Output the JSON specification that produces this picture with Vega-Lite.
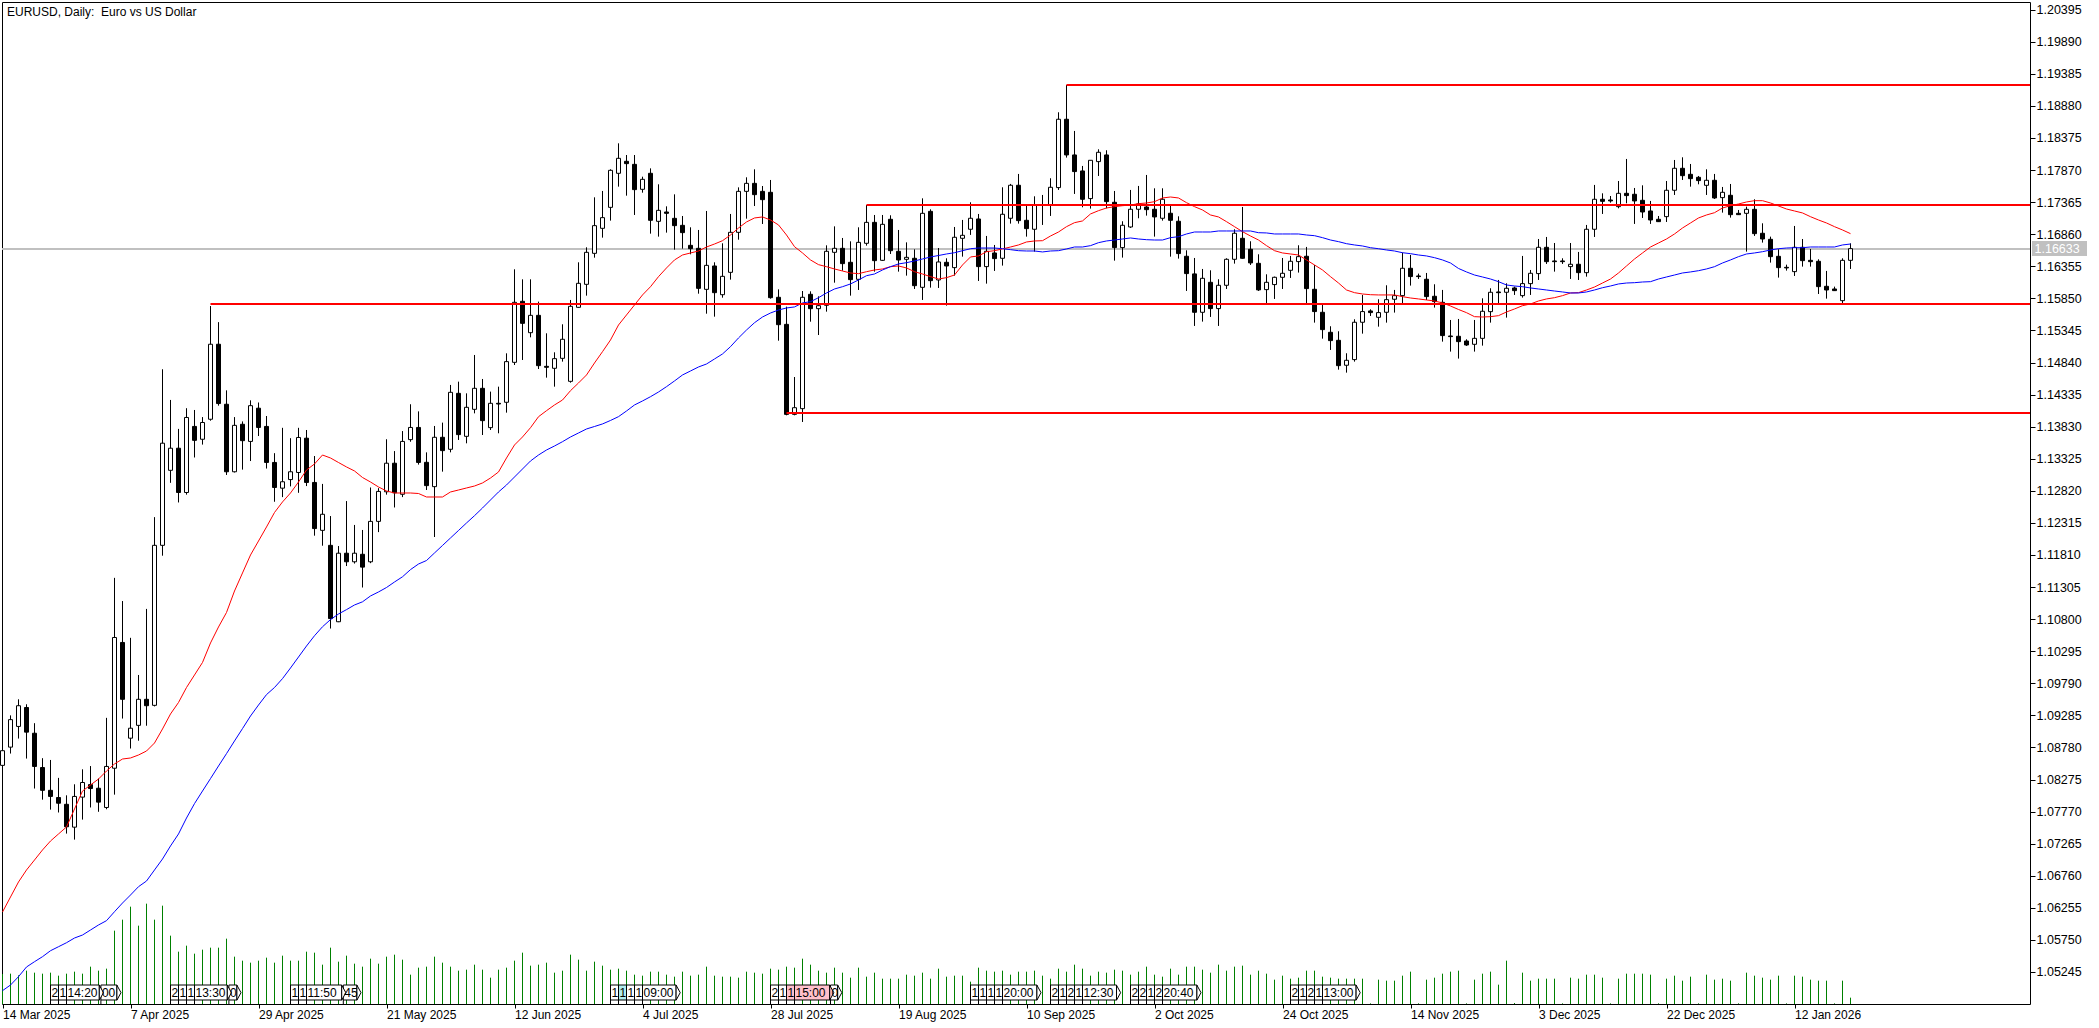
{
  "$schema": "https://vega.github.io/schema/vega-lite/v6.json",
  "width": 2028,
  "height": 1002,
  "autosize": {"type": "none"},
  "padding": {"left": 2, "top": 2, "right": 69, "bottom": 24},
  "background": "white",
  "config": {"view": {"stroke": "#000", "strokeWidth": 1}},
  "title": {
    "text": "EURUSD, Daily:\u00a0\u00a0Euro vs US Dollar",
    "anchor": "start",
    "frame": "group",
    "baseline": "top",
    "offset": -17,
    "dx": 5,
    "font": "Liberation Sans",
    "fontSize": 12,
    "fontWeight": "normal",
    "color": "#000"
  },
  "datasets": {
    "bars": [
{"bar":0,"open":1.08498,"high":1.08796,"low":1.08431,"close":1.08729,"volume":90,"ma_fast":1.06189,"ma_slow":1.04951},
{"bar":1,"open":1.08785,"high":1.09285,"low":1.08684,"close":1.09218,"volume":91,"ma_fast":1.06426,"ma_slow":1.0504},
{"bar":2,"open":1.09111,"high":1.09538,"low":1.0892,"close":1.09437,"volume":86,"ma_fast":1.06662,"ma_slow":1.05171},
{"bar":3,"open":1.09409,"high":1.0946,"low":1.08605,"close":1.09021,"volume":100,"ma_fast":1.06851,"ma_slow":1.05324},
{"bar":4,"open":1.09004,"high":1.09162,"low":1.08133,"close":1.08481,"volume":94,"ma_fast":1.07008,"ma_slow":1.05407},
{"bar":5,"open":1.08464,"high":1.08611,"low":1.07958,"close":1.08105,"volume":91,"ma_fast":1.07166,"ma_slow":1.05486},
{"bar":6,"open":1.08105,"high":1.08583,"low":1.07801,"close":1.08009,"volume":94,"ma_fast":1.07307,"ma_slow":1.0558},
{"bar":7,"open":1.07992,"high":1.08301,"low":1.07756,"close":1.07902,"volume":85,"ma_fast":1.07418,"ma_slow":1.05643},
{"bar":8,"open":1.07885,"high":1.08026,"low":1.07424,"close":1.07531,"volume":91,"ma_fast":1.07528,"ma_slow":1.05706},
{"bar":9,"open":1.07525,"high":1.082,"low":1.07329,"close":1.08009,"volume":97,"ma_fast":1.07811,"ma_slow":1.0578},
{"bar":10,"open":1.07998,"high":1.08436,"low":1.07644,"close":1.08228,"volume":91,"ma_fast":1.08094,"ma_slow":1.05827},
{"bar":11,"open":1.08195,"high":1.08487,"low":1.07835,"close":1.08133,"volume":112,"ma_fast":1.08189,"ma_slow":1.05906},
{"bar":12,"open":1.08138,"high":1.0829,"low":1.07767,"close":1.07919,"volume":100,"ma_fast":1.08283,"ma_slow":1.05985},
{"bar":13,"open":1.07835,"high":1.09246,"low":1.07807,"close":1.08481,"volume":106,"ma_fast":1.08409,"ma_slow":1.06053},
{"bar":14,"open":1.08453,"high":1.1145,"low":1.08037,"close":1.10511,"volume":220,"ma_fast":1.0852,"ma_slow":1.06194},
{"bar":15,"open":1.10433,"high":1.11085,"low":1.09235,"close":1.09538,"volume":253,"ma_fast":1.08598,"ma_slow":1.06331},
{"bar":16,"open":1.08926,"high":1.10506,"low":1.08763,"close":1.09083,"volume":292,"ma_fast":1.08614,"ma_slow":1.06457},
{"bar":17,"open":1.09128,"high":1.09921,"low":1.08886,"close":1.09538,"volume":235,"ma_fast":1.08661,"ma_slow":1.06588},
{"bar":18,"open":1.09538,"high":1.10961,"low":1.09122,"close":1.09437,"volume":301,"ma_fast":1.08724,"ma_slow":1.06677},
{"bar":19,"open":1.09443,"high":1.12406,"low":1.09426,"close":1.11962,"volume":253,"ma_fast":1.0885,"ma_slow":1.06851},
{"bar":20,"open":1.11962,"high":1.14734,"low":1.11799,"close":1.1357,"volume":295,"ma_fast":1.09071,"ma_slow":1.07024},
{"bar":21,"open":1.13143,"high":1.14251,"low":1.12946,"close":1.13491,"volume":205,"ma_fast":1.09307,"ma_slow":1.07229},
{"bar":22,"open":1.13491,"high":1.13795,"low":1.12637,"close":1.12794,"volume":157,"ma_fast":1.09488,"ma_slow":1.07418},
{"bar":23,"open":1.12794,"high":1.14121,"low":1.1276,"close":1.13975,"volume":175,"ma_fast":1.09724,"ma_slow":1.07669},
{"bar":24,"open":1.13834,"high":1.14093,"low":1.13345,"close":1.13615,"volume":151,"ma_fast":1.09921,"ma_slow":1.07896},
{"bar":25,"open":1.13632,"high":1.13981,"low":1.13548,"close":1.13896,"volume":163,"ma_fast":1.10118,"ma_slow":1.08094},
{"bar":26,"open":1.13947,"high":1.15729,"low":1.13924,"close":1.15128,"volume":169,"ma_fast":1.10425,"ma_slow":1.0829},
{"bar":27,"open":1.15128,"high":1.15476,"low":1.14161,"close":1.14194,"volume":169,"ma_fast":1.10677,"ma_slow":1.08488},
{"bar":28,"open":1.14183,"high":1.14402,"low":1.1307,"close":1.1312,"volume":196,"ma_fast":1.10905,"ma_slow":1.08683},
{"bar":29,"open":1.1312,"high":1.13981,"low":1.13109,"close":1.13851,"volume":142,"ma_fast":1.11243,"ma_slow":1.08882},
{"bar":30,"open":1.13868,"high":1.13913,"low":1.13154,"close":1.1361,"volume":130,"ma_fast":1.11527,"ma_slow":1.09077},
{"bar":31,"open":1.13598,"high":1.14245,"low":1.13289,"close":1.14161,"volume":124,"ma_fast":1.1181,"ma_slow":1.09275},
{"bar":32,"open":1.14121,"high":1.14211,"low":1.13683,"close":1.13818,"volume":130,"ma_fast":1.1203,"ma_slow":1.09448},
{"bar":33,"open":1.13834,"high":1.13998,"low":1.13171,"close":1.13267,"volume":139,"ma_fast":1.12251,"ma_slow":1.09612},
{"bar":34,"open":1.13267,"high":1.13413,"low":1.12648,"close":1.12873,"volume":124,"ma_fast":1.12479,"ma_slow":1.09724},
{"bar":35,"open":1.12862,"high":1.13812,"low":1.12721,"close":1.12963,"volume":145,"ma_fast":1.12645,"ma_slow":1.09864},
{"bar":36,"open":1.12997,"high":1.13649,"low":1.1289,"close":1.1312,"volume":130,"ma_fast":1.12786,"ma_slow":1.10031},
{"bar":37,"open":1.13109,"high":1.13812,"low":1.12789,"close":1.1366,"volume":130,"ma_fast":1.12959,"ma_slow":1.10204},
{"bar":38,"open":1.13649,"high":1.13778,"low":1.12895,"close":1.12952,"volume":157,"ma_fast":1.13148,"ma_slow":1.10377},
{"bar":39,"open":1.12952,"high":1.13368,"low":1.12114,"close":1.12226,"volume":154,"ma_fast":1.13243,"ma_slow":1.10539},
{"bar":40,"open":1.12198,"high":1.12929,"low":1.11956,"close":1.12451,"volume":118,"ma_fast":1.13384,"ma_slow":1.1068},
{"bar":41,"open":1.11962,"high":1.12423,"low":1.10652,"close":1.10809,"volume":169,"ma_fast":1.13337,"ma_slow":1.10793},
{"bar":42,"open":1.10759,"high":1.11951,"low":1.10753,"close":1.11838,"volume":127,"ma_fast":1.13266,"ma_slow":1.10881},
{"bar":43,"open":1.11838,"high":1.12659,"low":1.11636,"close":1.11703,"volume":145,"ma_fast":1.13196,"ma_slow":1.1095},
{"bar":44,"open":1.11703,"high":1.12283,"low":1.11675,"close":1.11838,"volume":121,"ma_fast":1.13133,"ma_slow":1.11023},
{"bar":45,"open":1.11821,"high":1.12204,"low":1.11298,"close":1.11619,"volume":112,"ma_fast":1.1303,"ma_slow":1.11073},
{"bar":46,"open":1.11703,"high":1.12873,"low":1.11681,"close":1.12339,"volume":136,"ma_fast":1.12959,"ma_slow":1.11165},
{"bar":47,"open":1.12339,"high":1.12862,"low":1.1217,"close":1.12811,"volume":121,"ma_fast":1.12881,"ma_slow":1.11228},
{"bar":48,"open":1.12805,"high":1.13632,"low":1.1276,"close":1.13255,"volume":142,"ma_fast":1.12818,"ma_slow":1.11298},
{"bar":49,"open":1.13255,"high":1.13446,"low":1.12558,"close":1.12789,"volume":148,"ma_fast":1.12786,"ma_slow":1.11385},
{"bar":50,"open":1.12766,"high":1.13761,"low":1.12721,"close":1.13598,"volume":133,"ma_fast":1.12786,"ma_slow":1.11467},
{"bar":51,"open":1.13626,"high":1.14183,"low":1.13593,"close":1.13818,"volume":88,"ma_fast":1.12786,"ma_slow":1.1158},
{"bar":52,"open":1.13818,"high":1.14071,"low":1.13233,"close":1.13267,"volume":109,"ma_fast":1.12778,"ma_slow":1.11668},
{"bar":53,"open":1.13269,"high":1.13426,"low":1.12833,"close":1.12902,"volume":112,"ma_fast":1.12723,"ma_slow":1.11723},
{"bar":54,"open":1.12886,"high":1.13841,"low":1.12093,"close":1.13663,"volume":142,"ma_fast":1.12723,"ma_slow":1.11842},
{"bar":55,"open":1.13663,"high":1.13894,"low":1.13122,"close":1.13453,"volume":124,"ma_fast":1.12723,"ma_slow":1.1196},
{"bar":56,"open":1.13474,"high":1.14487,"low":1.13426,"close":1.14371,"volume":112,"ma_fast":1.12802,"ma_slow":1.12078},
{"bar":57,"open":1.14355,"high":1.14539,"low":1.13621,"close":1.13705,"volume":100,"ma_fast":1.12833,"ma_slow":1.12196},
{"bar":58,"open":1.13678,"high":1.14355,"low":1.13568,"close":1.14135,"volume":103,"ma_fast":1.12865,"ma_slow":1.12314},
{"bar":59,"open":1.14103,"high":1.14959,"low":1.1404,"close":1.14434,"volume":118,"ma_fast":1.12896,"ma_slow":1.12429},
{"bar":60,"open":1.14434,"high":1.14581,"low":1.13699,"close":1.13925,"volume":103,"ma_fast":1.12944,"ma_slow":1.1255},
{"bar":61,"open":1.13815,"high":1.14382,"low":1.13778,"close":1.14198,"volume":79,"ma_fast":1.13022,"ma_slow":1.12676},
{"bar":62,"open":1.14198,"high":1.1446,"low":1.13726,"close":1.14187,"volume":103,"ma_fast":1.13117,"ma_slow":1.12802},
{"bar":63,"open":1.14214,"high":1.14985,"low":1.14051,"close":1.14854,"volume":109,"ma_fast":1.13337,"ma_slow":1.12912},
{"bar":64,"open":1.14843,"high":1.16308,"low":1.14801,"close":1.15788,"volume":130,"ma_fast":1.13542,"ma_slow":1.13038},
{"bar":65,"open":1.15804,"high":1.1615,"low":1.1488,"close":1.15457,"volume":154,"ma_fast":1.13668,"ma_slow":1.13164},
{"bar":66,"open":1.1531,"high":1.1615,"low":1.15237,"close":1.15583,"volume":115,"ma_fast":1.13814,"ma_slow":1.1329},
{"bar":67,"open":1.15583,"high":1.15799,"low":1.14738,"close":1.14791,"volume":118,"ma_fast":1.13987,"ma_slow":1.13384},
{"bar":68,"open":1.1478,"high":1.153,"low":1.14602,"close":1.14765,"volume":124,"ma_fast":1.14082,"ma_slow":1.13463},
{"bar":69,"open":1.14749,"high":1.15001,"low":1.1446,"close":1.14901,"volume":94,"ma_fast":1.14172,"ma_slow":1.13526},
{"bar":70,"open":1.14906,"high":1.15442,"low":1.14854,"close":1.15206,"volume":100,"ma_fast":1.1425,"ma_slow":1.13594},
{"bar":71,"open":1.14544,"high":1.15825,"low":1.14523,"close":1.15725,"volume":148,"ma_fast":1.14397,"ma_slow":1.13668},
{"bar":72,"open":1.15709,"high":1.16418,"low":1.15704,"close":1.16087,"volume":133,"ma_fast":1.14518,"ma_slow":1.13731},
{"bar":73,"open":1.16071,"high":1.16654,"low":1.15893,"close":1.16575,"volume":100,"ma_fast":1.14644,"ma_slow":1.13794},
{"bar":74,"open":1.16559,"high":1.17441,"low":1.16491,"close":1.16995,"volume":127,"ma_fast":1.14833,"ma_slow":1.13833},
{"bar":75,"open":1.16953,"high":1.17541,"low":1.16806,"close":1.17121,"volume":115,"ma_fast":1.15011,"ma_slow":1.13873},
{"bar":76,"open":1.17283,"high":1.17882,"low":1.17074,"close":1.17866,"volume":103,"ma_fast":1.15195,"ma_slow":1.13928},
{"bar":77,"open":1.17819,"high":1.18291,"low":1.17609,"close":1.18055,"volume":106,"ma_fast":1.15431,"ma_slow":1.13988},
{"bar":78,"open":1.18008,"high":1.18107,"low":1.17467,"close":1.17971,"volume":100,"ma_fast":1.15589,"ma_slow":1.14077},
{"bar":79,"open":1.1796,"high":1.18107,"low":1.17163,"close":1.17562,"volume":88,"ma_fast":1.15746,"ma_slow":1.14172},
{"bar":80,"open":1.17567,"high":1.17766,"low":1.17514,"close":1.17724,"volume":85,"ma_fast":1.15904,"ma_slow":1.14235},
{"bar":81,"open":1.17819,"high":1.17897,"low":1.16869,"close":1.17079,"volume":97,"ma_fast":1.16034,"ma_slow":1.14302},
{"bar":82,"open":1.17063,"high":1.17646,"low":1.16822,"close":1.17236,"volume":97,"ma_fast":1.16192,"ma_slow":1.14376},
{"bar":83,"open":1.1721,"high":1.17299,"low":1.16885,"close":1.17189,"volume":88,"ma_fast":1.16329,"ma_slow":1.1446},
{"bar":84,"open":1.1711,"high":1.17488,"low":1.16617,"close":1.16995,"volume":82,"ma_fast":1.16455,"ma_slow":1.1455},
{"bar":85,"open":1.17,"high":1.17147,"low":1.16633,"close":1.16885,"volume":97,"ma_fast":1.16533,"ma_slow":1.14644},
{"bar":86,"open":1.16685,"high":1.16969,"low":1.16544,"close":1.16633,"volume":85,"ma_fast":1.16565,"ma_slow":1.14707},
{"bar":87,"open":1.16638,"high":1.16927,"low":1.15924,"close":1.16008,"volume":88,"ma_fast":1.16596,"ma_slow":1.1477},
{"bar":88,"open":1.15992,"high":1.17226,"low":1.15609,"close":1.1637,"volume":112,"ma_fast":1.16659,"ma_slow":1.14817},
{"bar":89,"open":1.1636,"high":1.16418,"low":1.15562,"close":1.1594,"volume":85,"ma_fast":1.16706,"ma_slow":1.14896},
{"bar":90,"open":1.15908,"high":1.16717,"low":1.15861,"close":1.16197,"volume":82,"ma_fast":1.16758,"ma_slow":1.14975},
{"bar":91,"open":1.1626,"high":1.17179,"low":1.16145,"close":1.1689,"volume":82,"ma_fast":1.16848,"ma_slow":1.1509},
{"bar":92,"open":1.1689,"high":1.17598,"low":1.16774,"close":1.17535,"volume":79,"ma_fast":1.16958,"ma_slow":1.15227},
{"bar":93,"open":1.17535,"high":1.17756,"low":1.17105,"close":1.17661,"volume":97,"ma_fast":1.17053,"ma_slow":1.15352},
{"bar":94,"open":1.17661,"high":1.17882,"low":1.17304,"close":1.17483,"volume":94,"ma_fast":1.17116,"ma_slow":1.15467},
{"bar":95,"open":1.17535,"high":1.17619,"low":1.17021,"close":1.17404,"volume":91,"ma_fast":1.17132,"ma_slow":1.15557},
{"bar":96,"open":1.1752,"high":1.17714,"low":1.15845,"close":1.15861,"volume":106,"ma_fast":1.17084,"ma_slow":1.1562},
{"bar":97,"open":1.15867,"high":1.15992,"low":1.15184,"close":1.15436,"volume":103,"ma_fast":1.17006,"ma_slow":1.15667},
{"bar":98,"open":1.15441,"high":1.1572,"low":1.14009,"close":1.14024,"volume":112,"ma_fast":1.16848,"ma_slow":1.15699},
{"bar":99,"open":1.14024,"high":1.14612,"low":1.14009,"close":1.14129,"volume":109,"ma_fast":1.16664,"ma_slow":1.15715},
{"bar":100,"open":1.14114,"high":1.15966,"low":1.13904,"close":1.15867,"volume":136,"ma_fast":1.16565,"ma_slow":1.15778},
{"bar":101,"open":1.15914,"high":1.15961,"low":1.15483,"close":1.15688,"volume":118,"ma_fast":1.16455,"ma_slow":1.15798},
{"bar":102,"open":1.15688,"high":1.15882,"low":1.15273,"close":1.15735,"volume":100,"ma_fast":1.16381,"ma_slow":1.15861},
{"bar":103,"open":1.15741,"high":1.16685,"low":1.15641,"close":1.16591,"volume":94,"ma_fast":1.16349,"ma_slow":1.15935},
{"bar":104,"open":1.16575,"high":1.16984,"low":1.16097,"close":1.16638,"volume":109,"ma_fast":1.16313,"ma_slow":1.15998},
{"bar":105,"open":1.16638,"high":1.16801,"low":1.16286,"close":1.16397,"volume":94,"ma_fast":1.16281,"ma_slow":1.16034},
{"bar":106,"open":1.16418,"high":1.16748,"low":1.15893,"close":1.16145,"volume":79,"ma_fast":1.1625,"ma_slow":1.16077},
{"bar":107,"open":1.1615,"high":1.16969,"low":1.15982,"close":1.16732,"volume":109,"ma_fast":1.16239,"ma_slow":1.1614},
{"bar":108,"open":1.16717,"high":1.1732,"low":1.1668,"close":1.17047,"volume":82,"ma_fast":1.1627,"ma_slow":1.16207},
{"bar":109,"open":1.17047,"high":1.17163,"low":1.16271,"close":1.16444,"volume":94,"ma_fast":1.16297,"ma_slow":1.16234},
{"bar":110,"open":1.16449,"high":1.17163,"low":1.16439,"close":1.17016,"volume":76,"ma_fast":1.16313,"ma_slow":1.16297},
{"bar":111,"open":1.17095,"high":1.17158,"low":1.16549,"close":1.16601,"volume":76,"ma_fast":1.16349,"ma_slow":1.16349},
{"bar":112,"open":1.16591,"high":1.16927,"low":1.16271,"close":1.16454,"volume":76,"ma_fast":1.1636,"ma_slow":1.16392},
{"bar":113,"open":1.16465,"high":1.16732,"low":1.16208,"close":1.16496,"volume":88,"ma_fast":1.16329,"ma_slow":1.16412},
{"bar":114,"open":1.16481,"high":1.16622,"low":1.15998,"close":1.1605,"volume":85,"ma_fast":1.1627,"ma_slow":1.16439},
{"bar":115,"open":1.16024,"high":1.17425,"low":1.15825,"close":1.17189,"volume":94,"ma_fast":1.16234,"ma_slow":1.1647},
{"bar":116,"open":1.1722,"high":1.17252,"low":1.16019,"close":1.16129,"volume":76,"ma_fast":1.16192,"ma_slow":1.16502},
{"bar":117,"open":1.1614,"high":1.16643,"low":1.16014,"close":1.16423,"volume":106,"ma_fast":1.16155,"ma_slow":1.16525},
{"bar":118,"open":1.16418,"high":1.16481,"low":1.15736,"close":1.1636,"volume":82,"ma_fast":1.16176,"ma_slow":1.16549},
{"bar":119,"open":1.16334,"high":1.16974,"low":1.16208,"close":1.16812,"volume":85,"ma_fast":1.16218,"ma_slow":1.16569},
{"bar":120,"open":1.16796,"high":1.17085,"low":1.16507,"close":1.16843,"volume":85,"ma_fast":1.16376,"ma_slow":1.16601},
{"bar":121,"open":1.16938,"high":1.17363,"low":1.16849,"close":1.17111,"volume":67,"ma_fast":1.16502,"ma_slow":1.16632},
{"bar":122,"open":1.171,"high":1.17179,"low":1.16124,"close":1.1635,"volume":109,"ma_fast":1.16518,"ma_slow":1.16643},
{"bar":123,"open":1.1635,"high":1.16833,"low":1.16082,"close":1.16591,"volume":100,"ma_fast":1.16585,"ma_slow":1.16643},
{"bar":124,"open":1.16565,"high":1.16691,"low":1.16282,"close":1.16476,"volume":97,"ma_fast":1.16601,"ma_slow":1.16643},
{"bar":125,"open":1.16481,"high":1.17599,"low":1.16366,"close":1.17174,"volume":100,"ma_fast":1.16628,"ma_slow":1.16632},
{"bar":126,"open":1.17111,"high":1.17652,"low":1.17027,"close":1.17631,"volume":88,"ma_fast":1.16659,"ma_slow":1.16617},
{"bar":127,"open":1.17631,"high":1.17809,"low":1.17027,"close":1.17074,"volume":97,"ma_fast":1.16691,"ma_slow":1.16601},
{"bar":128,"open":1.17079,"high":1.17321,"low":1.16822,"close":1.16948,"volume":97,"ma_fast":1.16738,"ma_slow":1.16596},
{"bar":129,"open":1.16938,"high":1.17457,"low":1.16586,"close":1.17321,"volume":100,"ma_fast":1.16754,"ma_slow":1.16596},
{"bar":130,"open":1.17326,"high":1.17478,"low":1.17006,"close":1.17316,"volume":85,"ma_fast":1.16758,"ma_slow":1.16581},
{"bar":131,"open":1.17321,"high":1.17741,"low":1.17148,"close":1.17599,"volume":76,"ma_fast":1.16832,"ma_slow":1.16596},
{"bar":132,"open":1.17594,"high":1.1878,"low":1.17557,"close":1.1867,"volume":106,"ma_fast":1.16895,"ma_slow":1.16601},
{"bar":133,"open":1.1867,"high":1.1921,"low":1.18066,"close":1.18108,"volume":97,"ma_fast":1.16979,"ma_slow":1.16628},
{"bar":134,"open":1.18108,"high":1.18486,"low":1.17494,"close":1.17846,"volume":118,"ma_fast":1.17042,"ma_slow":1.16659},
{"bar":135,"open":1.17856,"high":1.17935,"low":1.17284,"close":1.1741,"volume":106,"ma_fast":1.17069,"ma_slow":1.16659},
{"bar":136,"open":1.17421,"high":1.18024,"low":1.17263,"close":1.18024,"volume":85,"ma_fast":1.17179,"ma_slow":1.1668},
{"bar":137,"open":1.18003,"high":1.18197,"low":1.17777,"close":1.1815,"volume":97,"ma_fast":1.17231,"ma_slow":1.16727},
{"bar":138,"open":1.18108,"high":1.18182,"low":1.17268,"close":1.17373,"volume":94,"ma_fast":1.17273,"ma_slow":1.16754},
{"bar":139,"open":1.17363,"high":1.17541,"low":1.16444,"close":1.16649,"volume":103,"ma_fast":1.17294,"ma_slow":1.16769},
{"bar":140,"open":1.16649,"high":1.17064,"low":1.16492,"close":1.17001,"volume":100,"ma_fast":1.17309,"ma_slow":1.16785},
{"bar":141,"open":1.16974,"high":1.17557,"low":1.16959,"close":1.17253,"volume":88,"ma_fast":1.1732,"ma_slow":1.16801},
{"bar":142,"open":1.17253,"high":1.1762,"low":1.17111,"close":1.17337,"volume":97,"ma_fast":1.17341,"ma_slow":1.16785},
{"bar":143,"open":1.17289,"high":1.17793,"low":1.17153,"close":1.17247,"volume":112,"ma_fast":1.17352,"ma_slow":1.16774},
{"bar":144,"open":1.17253,"high":1.17583,"low":1.16822,"close":1.17132,"volume":88,"ma_fast":1.17372,"ma_slow":1.16769},
{"bar":145,"open":1.17111,"high":1.17583,"low":1.17074,"close":1.1741,"volume":82,"ma_fast":1.17431,"ma_slow":1.16769},
{"bar":146,"open":1.1719,"high":1.17321,"low":1.16507,"close":1.17079,"volume":106,"ma_fast":1.17446,"ma_slow":1.16806},
{"bar":147,"open":1.17064,"high":1.17142,"low":1.16476,"close":1.16555,"volume":88,"ma_fast":1.17431,"ma_slow":1.16821},
{"bar":148,"open":1.16513,"high":1.16607,"low":1.15967,"close":1.1624,"volume":112,"ma_fast":1.17357,"ma_slow":1.16864},
{"bar":149,"open":1.16235,"high":1.16486,"low":1.15416,"close":1.15631,"volume":112,"ma_fast":1.17294,"ma_slow":1.16895},
{"bar":150,"open":1.15631,"high":1.16313,"low":1.15484,"close":1.16166,"volume":103,"ma_fast":1.17242,"ma_slow":1.16895},
{"bar":151,"open":1.16103,"high":1.16292,"low":1.15558,"close":1.15689,"volume":94,"ma_fast":1.17163,"ma_slow":1.16895},
{"bar":152,"open":1.15689,"high":1.16151,"low":1.15416,"close":1.16056,"volume":118,"ma_fast":1.17132,"ma_slow":1.16911},
{"bar":153,"open":1.16056,"high":1.16481,"low":1.15998,"close":1.16465,"volume":100,"ma_fast":1.17058,"ma_slow":1.16911},
{"bar":154,"open":1.16465,"high":1.16938,"low":1.16397,"close":1.16875,"volume":112,"ma_fast":1.16979,"ma_slow":1.16911},
{"bar":155,"open":1.16796,"high":1.17289,"low":1.16476,"close":1.16481,"volume":115,"ma_fast":1.169,"ma_slow":1.16911},
{"bar":156,"open":1.16623,"high":1.16749,"low":1.16376,"close":1.16408,"volume":88,"ma_fast":1.16832,"ma_slow":1.16911},
{"bar":157,"open":1.16402,"high":1.16544,"low":1.15967,"close":1.15983,"volume":100,"ma_fast":1.16769,"ma_slow":1.16884},
{"bar":158,"open":1.15988,"high":1.16229,"low":1.15773,"close":1.16103,"volume":91,"ma_fast":1.1668,"ma_slow":1.1688},
{"bar":159,"open":1.16067,"high":1.16193,"low":1.15841,"close":1.16182,"volume":73,"ma_fast":1.16601,"ma_slow":1.16864},
{"bar":160,"open":1.16182,"high":1.16486,"low":1.15998,"close":1.16245,"volume":85,"ma_fast":1.16565,"ma_slow":1.16864},
{"bar":161,"open":1.16292,"high":1.16518,"low":1.16172,"close":1.16434,"volume":76,"ma_fast":1.16549,"ma_slow":1.16864},
{"bar":162,"open":1.16429,"high":1.16686,"low":1.16256,"close":1.16507,"volume":79,"ma_fast":1.16533,"ma_slow":1.16864},
{"bar":163,"open":1.16513,"high":1.1666,"low":1.15762,"close":1.16004,"volume":100,"ma_fast":1.16455,"ma_slow":1.16848},
{"bar":164,"open":1.15993,"high":1.16376,"low":1.15468,"close":1.15642,"volume":100,"ma_fast":1.16376,"ma_slow":1.16837},
{"bar":165,"open":1.15631,"high":1.15762,"low":1.15216,"close":1.15358,"volume":82,"ma_fast":1.16297,"ma_slow":1.16806},
{"bar":166,"open":1.15316,"high":1.15411,"low":1.15038,"close":1.15185,"volume":79,"ma_fast":1.16192,"ma_slow":1.16769},
{"bar":167,"open":1.1519,"high":1.15332,"low":1.14728,"close":1.14791,"volume":76,"ma_fast":1.16092,"ma_slow":1.16743},
{"bar":168,"open":1.14797,"high":1.14986,"low":1.14681,"close":1.14875,"volume":76,"ma_fast":1.15982,"ma_slow":1.16711},
{"bar":169,"open":1.14886,"high":1.15521,"low":1.14854,"close":1.15474,"volume":76,"ma_fast":1.1594,"ma_slow":1.16691},
{"bar":170,"open":1.15474,"high":1.15904,"low":1.15295,"close":1.15642,"volume":76,"ma_fast":1.15919,"ma_slow":1.16675},
{"bar":171,"open":1.15652,"high":1.15678,"low":1.15573,"close":1.15626,"volume":2,"ma_fast":1.15908,"ma_slow":1.16648},
{"bar":172,"open":1.15552,"high":1.15836,"low":1.15405,"close":1.15626,"volume":73,"ma_fast":1.15904,"ma_slow":1.16632},
{"bar":173,"open":1.15631,"high":1.16056,"low":1.15468,"close":1.1583,"volume":70,"ma_fast":1.15904,"ma_slow":1.16612},
{"bar":174,"open":1.15836,"high":1.15983,"low":1.15626,"close":1.15893,"volume":70,"ma_fast":1.15904,"ma_slow":1.16596},
{"bar":175,"open":1.15893,"high":1.1657,"low":1.15773,"close":1.16324,"volume":85,"ma_fast":1.15877,"ma_slow":1.16569},
{"bar":176,"open":1.16324,"high":1.16534,"low":1.16051,"close":1.16193,"volume":97,"ma_fast":1.15856,"ma_slow":1.16554},
{"bar":177,"open":1.16203,"high":1.1624,"low":1.16156,"close":1.16193,"volume":2,"ma_fast":1.15841,"ma_slow":1.16533},
{"bar":178,"open":1.16151,"high":1.1625,"low":1.15825,"close":1.15878,"volume":73,"ma_fast":1.15825,"ma_slow":1.16518},
{"bar":179,"open":1.15883,"high":1.16072,"low":1.15705,"close":1.15799,"volume":79,"ma_fast":1.15809,"ma_slow":1.16491},
{"bar":180,"open":1.15788,"high":1.15983,"low":1.15169,"close":1.15264,"volume":91,"ma_fast":1.15778,"ma_slow":1.16455},
{"bar":181,"open":1.15258,"high":1.1551,"low":1.15012,"close":1.15248,"volume":97,"ma_fast":1.1573,"ma_slow":1.16407},
{"bar":182,"open":1.15253,"high":1.15526,"low":1.14902,"close":1.15169,"volume":100,"ma_fast":1.15675,"ma_slow":1.16321},
{"bar":183,"open":1.15179,"high":1.15206,"low":1.15101,"close":1.15116,"volume":2,"ma_fast":1.15625,"ma_slow":1.16266},
{"bar":184,"open":1.15127,"high":1.1551,"low":1.15012,"close":1.15221,"volume":73,"ma_fast":1.15562,"ma_slow":1.16218},
{"bar":185,"open":1.15221,"high":1.15851,"low":1.15106,"close":1.15647,"volume":91,"ma_fast":1.15557,"ma_slow":1.16187},
{"bar":186,"open":1.15641,"high":1.16009,"low":1.15468,"close":1.15946,"volume":97,"ma_fast":1.15562,"ma_slow":1.16155},
{"bar":187,"open":1.15951,"high":1.1614,"low":1.15772,"close":1.1594,"volume":58,"ma_fast":1.15578,"ma_slow":1.16113},
{"bar":188,"open":1.15946,"high":1.16087,"low":1.15547,"close":1.16009,"volume":130,"ma_fast":1.15636,"ma_slow":1.16061},
{"bar":189,"open":1.16014,"high":1.16035,"low":1.15904,"close":1.15972,"volume":3,"ma_fast":1.15683,"ma_slow":1.16045},
{"bar":190,"open":1.15893,"high":1.16518,"low":1.15862,"close":1.16082,"volume":94,"ma_fast":1.15735,"ma_slow":1.16034},
{"bar":191,"open":1.16082,"high":1.16297,"low":1.15904,"close":1.16245,"volume":70,"ma_fast":1.15762,"ma_slow":1.16014},
{"bar":192,"open":1.1624,"high":1.16785,"low":1.1614,"close":1.16654,"volume":76,"ma_fast":1.15809,"ma_slow":1.15998},
{"bar":193,"open":1.16654,"high":1.16817,"low":1.16392,"close":1.16428,"volume":76,"ma_fast":1.15841,"ma_slow":1.15982},
{"bar":194,"open":1.16439,"high":1.16722,"low":1.16271,"close":1.16428,"volume":76,"ma_fast":1.15861,"ma_slow":1.15966},
{"bar":195,"open":1.16439,"high":1.16481,"low":1.16392,"close":1.16428,"volume":2,"ma_fast":1.15893,"ma_slow":1.15951},
{"bar":196,"open":1.1635,"high":1.16722,"low":1.16156,"close":1.16387,"volume":79,"ma_fast":1.15935,"ma_slow":1.15935},
{"bar":197,"open":1.16387,"high":1.16581,"low":1.1614,"close":1.16255,"volume":76,"ma_fast":1.1594,"ma_slow":1.15935},
{"bar":198,"open":1.16255,"high":1.17006,"low":1.16192,"close":1.16938,"volume":88,"ma_fast":1.15982,"ma_slow":1.15951},
{"bar":199,"open":1.16938,"high":1.17636,"low":1.16817,"close":1.1741,"volume":88,"ma_fast":1.16029,"ma_slow":1.15982},
{"bar":200,"open":1.1741,"high":1.17504,"low":1.17179,"close":1.17378,"volume":79,"ma_fast":1.16092,"ma_slow":1.16018},
{"bar":201,"open":1.17399,"high":1.17462,"low":1.17357,"close":1.17384,"volume":2,"ma_fast":1.16155,"ma_slow":1.16045},
{"bar":202,"open":1.17294,"high":1.17698,"low":1.17268,"close":1.17504,"volume":76,"ma_fast":1.1625,"ma_slow":1.16077},
{"bar":203,"open":1.17504,"high":1.18045,"low":1.17347,"close":1.17468,"volume":91,"ma_fast":1.1636,"ma_slow":1.16092},
{"bar":204,"open":1.17489,"high":1.17588,"low":1.17022,"close":1.17384,"volume":91,"ma_fast":1.1647,"ma_slow":1.16097},
{"bar":205,"open":1.17394,"high":1.1763,"low":1.17116,"close":1.1721,"volume":91,"ma_fast":1.16565,"ma_slow":1.16108},
{"bar":206,"open":1.17226,"high":1.17384,"low":1.17022,"close":1.17084,"volume":88,"ma_fast":1.16659,"ma_slow":1.16113},
{"bar":207,"open":1.17095,"high":1.17147,"low":1.17053,"close":1.17058,"volume":2,"ma_fast":1.16722,"ma_slow":1.16155},
{"bar":208,"open":1.17137,"high":1.17698,"low":1.17053,"close":1.17552,"volume":76,"ma_fast":1.16785,"ma_slow":1.16187},
{"bar":209,"open":1.17552,"high":1.18029,"low":1.17478,"close":1.17898,"volume":85,"ma_fast":1.16864,"ma_slow":1.16218},
{"bar":210,"open":1.17898,"high":1.18071,"low":1.17714,"close":1.17782,"volume":70,"ma_fast":1.16958,"ma_slow":1.1625},
{"bar":211,"open":1.17803,"high":1.17966,"low":1.17609,"close":1.17735,"volume":82,"ma_fast":1.17037,"ma_slow":1.16266},
{"bar":212,"open":1.17756,"high":1.17777,"low":1.17646,"close":1.17704,"volume":2,"ma_fast":1.17116,"ma_slow":1.16286},
{"bar":213,"open":1.1763,"high":1.17882,"low":1.17478,"close":1.17709,"volume":88,"ma_fast":1.17163,"ma_slow":1.16313},
{"bar":214,"open":1.17709,"high":1.17809,"low":1.17415,"close":1.17431,"volume":73,"ma_fast":1.17199,"ma_slow":1.16349},
{"bar":215,"open":1.17436,"high":1.17604,"low":1.172,"close":1.1752,"volume":76,"ma_fast":1.17273,"ma_slow":1.16407},
{"bar":216,"open":1.17473,"high":1.17651,"low":1.17121,"close":1.17168,"volume":70,"ma_fast":1.17309,"ma_slow":1.16455},
{"bar":217,"open":1.17189,"high":1.17242,"low":1.17163,"close":1.17168,"volume":2,"ma_fast":1.17336,"ma_slow":1.16507},
{"bar":218,"open":1.17189,"high":1.17294,"low":1.16586,"close":1.17252,"volume":94,"ma_fast":1.17368,"ma_slow":1.16549},
{"bar":219,"open":1.17252,"high":1.1741,"low":1.16833,"close":1.16869,"volume":85,"ma_fast":1.17388,"ma_slow":1.16565},
{"bar":220,"open":1.16875,"high":1.17032,"low":1.16728,"close":1.16785,"volume":79,"ma_fast":1.17388,"ma_slow":1.16585},
{"bar":221,"open":1.1678,"high":1.16822,"low":1.16413,"close":1.16507,"volume":73,"ma_fast":1.17352,"ma_slow":1.16612},
{"bar":222,"open":1.16512,"high":1.16623,"low":1.16177,"close":1.16334,"volume":85,"ma_fast":1.17305,"ma_slow":1.16632},
{"bar":223,"open":1.16339,"high":1.16381,"low":1.16287,"close":1.16329,"volume":2,"ma_fast":1.17257,"ma_slow":1.16643},
{"bar":224,"open":1.16271,"high":1.1699,"low":1.16203,"close":1.16654,"volume":85,"ma_fast":1.17226,"ma_slow":1.16648},
{"bar":225,"open":1.16654,"high":1.16785,"low":1.1635,"close":1.16444,"volume":82,"ma_fast":1.17195,"ma_slow":1.16648},
{"bar":226,"open":1.16449,"high":1.16628,"low":1.1635,"close":1.16428,"volume":73,"ma_fast":1.17136,"ma_slow":1.16659},
{"bar":227,"open":1.16434,"high":1.16465,"low":1.15919,"close":1.16035,"volume":70,"ma_fast":1.17084,"ma_slow":1.16659},
{"bar":228,"open":1.1604,"high":1.16282,"low":1.15846,"close":1.15982,"volume":70,"ma_fast":1.17037,"ma_slow":1.16659},
{"bar":229,"open":1.15998,"high":1.16035,"low":1.15967,"close":1.15972,"volume":2,"ma_fast":1.16979,"ma_slow":1.16659},
{"bar":230,"open":1.15814,"high":1.16481,"low":1.15772,"close":1.16449,"volume":70,"ma_fast":1.16927,"ma_slow":1.16691},
{"bar":231,"open":1.16449,"high":1.16717,"low":1.16313,"close":1.16633,"volume":19,"ma_fast":1.16869,"ma_slow":1.16706}
    ],
    "levels": [
      {"start": 133, "level": 1.1921},
      {"start": 108, "level": 1.1732},
      {"start": 26, "level": 1.15762},
      {"start": 98, "level": 1.14046}
    ],
    "events": [
      {"start":6,"end":7,"label":"2","kind":"normal"},
      {"start":7,"end":8,"label":"1","kind":"normal"},
      {"start":12.3,"end":14.3,"label":"00","kind":"normal"},
      {"start":8,"end":12.1,"label":"14:20","kind":"normal"},
      {"start":21,"end":22,"label":"2","kind":"normal"},
      {"start":22,"end":23,"label":"1","kind":"normal"},
      {"start":23,"end":24,"label":"1","kind":"normal"},
      {"start":28.3,"end":29.3,"label":"0","kind":"normal"},
      {"start":24,"end":28.1,"label":"13:30","kind":"normal"},
      {"start":36,"end":37,"label":"1","kind":"normal"},
      {"start":37,"end":38,"label":"1","kind":"normal"},
      {"start":42.6,"end":44.3,"label":"45","kind":"normal"},
      {"start":38,"end":42.4,"label":"11:50","kind":"normal"},
      {"start":76,"end":77,"label":"1","kind":"normal"},
      {"start":77,"end":78,"label":"1","kind":"info"},
      {"start":78,"end":79,"label":"1","kind":"normal"},
      {"start":79,"end":80,"label":"1","kind":"normal"},
      {"start":80,"end":84.2,"label":"09:00","kind":"normal"},
      {"start":96,"end":97,"label":"2","kind":"normal"},
      {"start":97,"end":98,"label":"1","kind":"normal"},
      {"start":98,"end":99,"label":"1","kind":"alert"},
      {"start":103.5,"end":104.4,"label":"0","kind":"normal"},
      {"start":99,"end":103.4,"label":"15:00","kind":"alert"},
      {"start":121,"end":122,"label":"1","kind":"normal"},
      {"start":122,"end":123,"label":"1","kind":"normal"},
      {"start":123,"end":124,"label":"1","kind":"normal"},
      {"start":124,"end":125,"label":"1","kind":"normal"},
      {"start":125,"end":129.3,"label":"20:00","kind":"normal"},
      {"start":131,"end":132,"label":"2","kind":"normal"},
      {"start":132,"end":133,"label":"1","kind":"normal"},
      {"start":133,"end":134,"label":"2","kind":"normal"},
      {"start":134,"end":135,"label":"1","kind":"normal"},
      {"start":135,"end":139.25,"label":"12:30","kind":"normal"},
      {"start":141,"end":142,"label":"2","kind":"normal"},
      {"start":142,"end":143,"label":"2","kind":"normal"},
      {"start":143,"end":144,"label":"1","kind":"normal"},
      {"start":144,"end":145,"label":"2","kind":"normal"},
      {"start":145,"end":149.3,"label":"20:40","kind":"normal"},
      {"start":161,"end":162,"label":"2","kind":"normal"},
      {"start":162,"end":163,"label":"1","kind":"normal"},
      {"start":163,"end":164,"label":"2","kind":"normal"},
      {"start":164,"end":165,"label":"1","kind":"normal"},
      {"start":165,"end":169.2,"label":"13:00","kind":"normal"}
    ]
  },
  "data": {"name": "bars"},
  "encoding": {
    "x": {
      "field": "bar",
      "type": "quantitative",
      "scale": {"domain": [-0.0625, 253.4375], "nice": false, "zero": false, "padding": 0},
      "axis": {
        "orient": "bottom",
        "title": null,
        "grid": false,
        "domain": false,
        "values": [0, 16, 32, 48, 64, 80, 96, 112, 128, 144, 160, 176, 192, 208, 224],
        "labelExpr": "['14 Mar 2025','7 Apr 2025','29 Apr 2025','21 May 2025','12 Jun 2025','4 Jul 2025','28 Jul 2025','19 Aug 2025','10 Sep 2025','2 Oct 2025','24 Oct 2025','14 Nov 2025','3 Dec 2025','22 Dec 2025','12 Jan 2026'][datum.value / 16]",
        "labelAlign": "left",
        "labelBaseline": "top",
        "labelPadding": 1,
        "labelFont": "Liberation Sans",
        "labelFontSize": 12,
        "labelColor": "#000",
        "labelBound": false,
        "labelOverlap": false,
        "labelFlush": false,
        "tickColor": "#000",
        "tickSize": 4
      }
    }
  },
  "layer": [
    {
      "encoding": {
        "y": {
          "type": "quantitative",
          "scale": {"domain": [0, 3006], "nice": false, "zero": false},
          "axis": null
        }
      },
      "layer": [
        {
          "mark": {"type": "rule", "color": "#008000", "strokeWidth": 1},
          "encoding": {"y": {"field": "volume", "type": "quantitative", "scale": {"domain": [0, 3006], "nice": false}, "axis": null}, "y2": {"datum": 0}}
        },
        {
          "data": {"name": "events"},
          "mark": {"type": "rule", "color": "#000", "strokeWidth": 1},
          "encoding": {
            "x": {"field": "start", "type": "quantitative"},
            "y": {"datum": 12, "type": "quantitative"},
            "y2": {"datum": 0}
          }
        },
        {
          "data": {"name": "events"},
          "mark": {"type": "rect", "stroke": "#000", "strokeWidth": 1},
          "encoding": {
            "x": {"field": "start", "type": "quantitative"},
            "x2": {"field": "end"},
            "y": {"datum": 57, "type": "quantitative"},
            "y2": {"datum": 12},
            "fill": {"field": "kind", "type": "nominal", "legend": null, "scale": {"domain": ["normal", "info", "alert"], "range": ["#ffffff", "#afeeee", "#ffc0cb"]}}
          }
        },
        {
          "data": {"name": "events"},
          "transform": [{"filter": "datum.end - datum.start > 0.85 && datum.label != '1' && datum.label != '2'"}],
          "mark": {"type": "point", "shape": "M0,-1L0.55,0L0,1Z", "size": 225, "filled": true, "opacity": 1, "stroke": "#000", "strokeWidth": 1},
          "encoding": {
            "x": {"field": "end", "type": "quantitative"},
            "y": {"datum": 34, "type": "quantitative"},
            "fill": {"field": "kind", "type": "nominal", "legend": null, "scale": {"domain": ["normal", "info", "alert"], "range": ["#ffffff", "#afeeee", "#ffc0cb"]}}
          }
        },
        {
          "data": {"name": "events"},
          "mark": {"type": "text", "align": "left", "dx": 1, "font": "Liberation Sans", "fontSize": 12, "color": "#000"},
          "encoding": {
            "x": {"field": "start", "type": "quantitative"},
            "y": {"datum": 34, "type": "quantitative"},
            "text": {"field": "label"}
          }
        }
      ]
    },
    {
      "encoding": {
        "y": {
          "type": "quantitative",
          "scale": {"domain": [1.04741, 1.20516], "nice": false, "zero": false},
          "axis": {
            "orient": "right",
            "title": null,
            "grid": false,
            "domain": false,
            "values": [1.20395,1.1989,1.19385,1.1888,1.18375,1.1787,1.17365,1.1686,1.16355,1.1585,1.15345,1.1484,1.14335,1.1383,1.13325,1.1282,1.12315,1.1181,1.11305,1.108,1.10295,1.0979,1.09285,1.0878,1.08275,1.0777,1.07265,1.0676,1.06255,1.0575,1.05245],
            "format": ".5f",
            "labelFont": "Liberation Sans",
            "labelFontSize": 12.5,
            "labelColor": "#000",
            "labelPadding": 1,
            "labelBound": false,
            "labelOverlap": false,
            "labelFlush": false,
            "tickColor": "#000",
            "tickSize": 5
          }
        }
      },
      "layer": [
        {
          "mark": {"type": "rule", "color": "#c0c0c0", "strokeWidth": 1},
          "encoding": {
            "x": {"datum": -0.0625, "type": "quantitative"},
            "x2": {"datum": 253.4375},
            "y": {"datum": 1.16633, "type": "quantitative"}
          }
        },
        {
          "mark": {"type": "rule", "color": "#000", "strokeWidth": 1},
          "encoding": {
            "y": {"field": "low", "type": "quantitative"},
            "y2": {"field": "high"}
          }
        },
        {
          "mark": {"type": "bar", "size": 4, "stroke": "#000", "strokeWidth": 1, "orient": "vertical"},
          "encoding": {
            "y": {"field": "open", "type": "quantitative"},
            "y2": {"field": "close"},
            "fill": {"condition": {"test": "datum.close >= datum.open", "value": "#ffffff"}, "value": "#000000"}
          }
        },
        {
          "mark": {"type": "line", "color": "#ff0000", "strokeWidth": 1},
          "encoding": {"y": {"field": "ma_fast", "type": "quantitative"}}
        },
        {
          "mark": {"type": "line", "color": "#0000ff", "strokeWidth": 1},
          "encoding": {"y": {"field": "ma_slow", "type": "quantitative"}}
        },
        {
          "data": {"name": "levels"},
          "mark": {"type": "rule", "color": "#ff0000", "strokeWidth": 2},
          "encoding": {
            "x": {"field": "start", "type": "quantitative"},
            "x2": {"datum": 253.4375},
            "y": {"field": "level", "type": "quantitative"}
          }
        },
        {
          "mark": {"type": "rect", "color": "#c0c0c0"},
          "encoding": {
            "x": {"datum": 253.75, "type": "quantitative"},
            "x2": {"datum": 260.5},
            "y": {"datum": 1.16743, "type": "quantitative"},
            "y2": {"datum": 1.16523}
          }
        },
        {
          "transform": [{"filter": "datum.bar == 231"}],
          "mark": {"type": "text", "align": "left", "baseline": "middle", "dx": 184, "font": "Liberation Sans", "fontSize": 12.5, "color": "#ffffff"},
          "encoding": {
            "y": {"field": "close", "type": "quantitative"},
            "text": {"field": "close", "type": "quantitative", "format": ".5f"}
          }
        }
      ]
    }
  ],
  "resolve": {"scale": {"y": "independent"}}
}
